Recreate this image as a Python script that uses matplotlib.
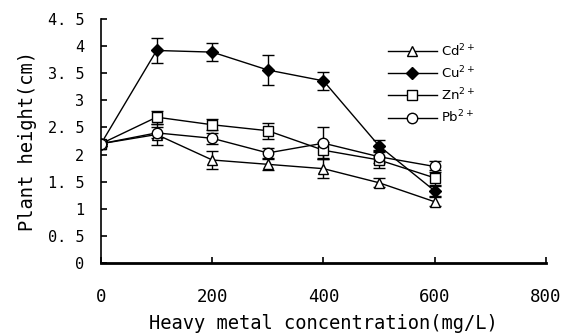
import matplotlib.pyplot as plt
import numpy as np

conc = [0, 100, 200, 300, 400, 500, 600]
cd = [2.2, 2.37, 1.90, 1.82, 1.74, 1.48, 1.13]
cd_err = [0.05, 0.2, 0.17, 0.1, 0.17, 0.08, 0.08]
cu = [2.2, 3.92, 3.89, 3.56, 3.36, 2.16, 1.33]
cu_err = [0.05, 0.23, 0.17, 0.28, 0.17, 0.1, 0.1]
zn = [2.2, 2.69, 2.55, 2.44, 2.08, 1.90, 1.57]
zn_err = [0.05, 0.12, 0.1, 0.15, 0.15, 0.15, 0.15]
pb = [2.2, 2.40, 2.30, 2.03, 2.21, 1.96, 1.78]
pb_err = [0.05, 0.1, 0.1, 0.1, 0.3, 0.12, 0.1]

xticks = [0, 200, 400, 600, 800]
yticks = [0, 0.5, 1, 1.5, 2, 2.5, 3, 3.5, 4, 4.5]
ytick_labels = ['0', '0. 5', '1', '1. 5', '2', '2. 5', '3', '3. 5', '4', '4. 5']

mono = 'DejaVu Sans Mono'

fig = plt.figure(figsize=(5.74, 3.34), dpi=100)
ax = fig.add_axes([0.176, 0.2126, 0.775, 0.7304])

series = [(cd, cd_err, '^', 'white', 'Cd$^{2+}$'),
          (cu, cu_err, 'D', 'black', 'Cu$^{2+}$'),
          (zn, zn_err, 's', 'white', 'Zn$^{2+}$'),
          (pb, pb_err, 'o', 'white', 'Pb$^{2+}$')]
for vals, err, m, fc, lab in series:
    ms = 6.5 if m == 'D' else 7.5
    ax.errorbar(conc, vals, yerr=err, color='black', lw=1.0, marker=m,
                markersize=ms, markerfacecolor=fc, markeredgecolor='black',
                markeredgewidth=1.0, capsize=4, elinewidth=1.0, capthick=1.0,
                label=lab)

ax.set_xlim(0, 800)
ax.set_ylim(0, 4.5)
ax.set_xticks(xticks)
ax.set_xticklabels([str(t) for t in xticks], fontfamily=mono, fontsize=12.5)
ax.set_yticks(yticks)
ax.set_yticklabels(ytick_labels, fontfamily=mono, fontsize=11)
ax.tick_params(direction='in', length=4, width=1.2)
ax.tick_params(axis='y', pad=12)
ax.tick_params(axis='x', pad=18)
ax.spines['top'].set_visible(False)
ax.spines['right'].set_visible(False)
ax.spines['left'].set_linewidth(1.2)
ax.spines['bottom'].set_linewidth(2)

ax.set_xlabel('Heavy metal concentration(mg/L)', fontfamily=mono, fontsize=13.5, labelpad=6)
ax.set_ylabel('Plant height(cm)', fontfamily=mono, fontsize=13.5, labelpad=8)

handles, labels = ax.get_legend_handles_labels()
handles = [h[0] for h in handles]
ax.legend(handles, labels, loc='upper left', bbox_to_anchor=(0.645, 0.905),
          frameon=False, handlelength=3.7, fontsize=9.5, labelspacing=0.42,
          handletextpad=0.3, borderpad=0, borderaxespad=0)

plt.savefig('out.png', dpi=100)
